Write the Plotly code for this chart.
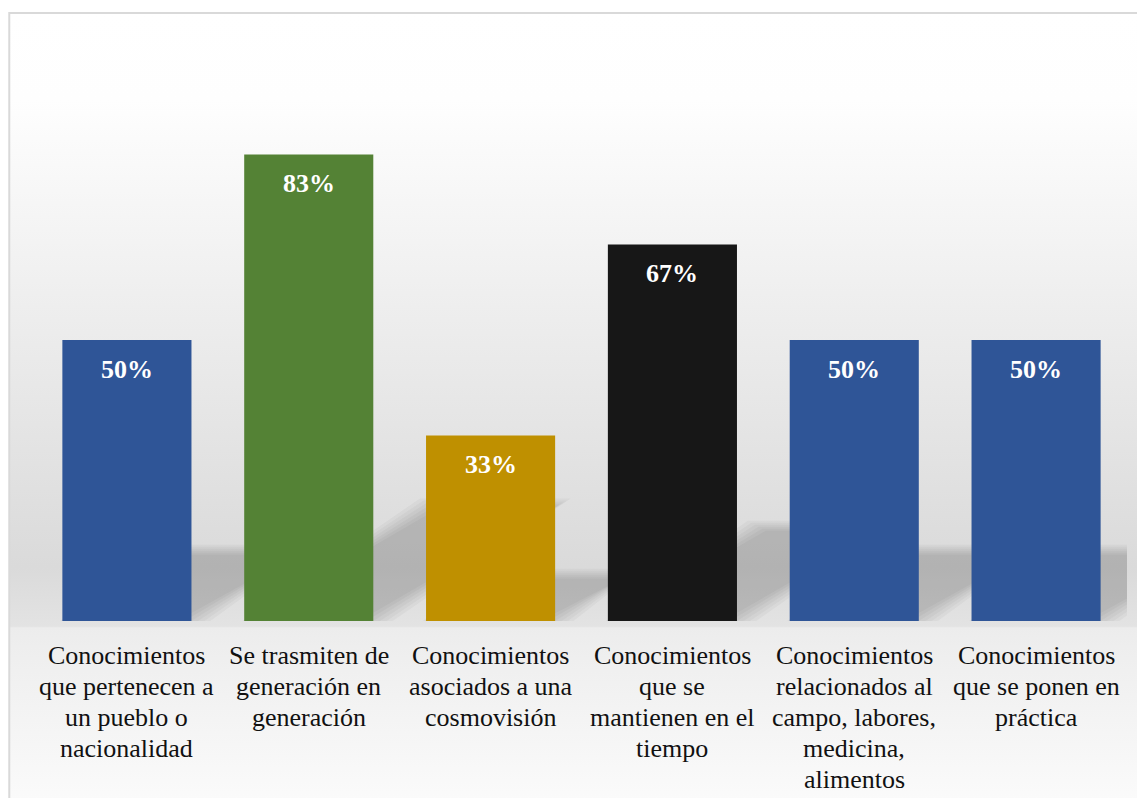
import base64
import plotly.graph_objects as go

categories = [
    "Conocimientos<br>que pertenecen a<br>un pueblo o<br>nacionalidad",
    "Se trasmiten de<br>generación en<br>generación",
    "Conocimientos<br>asociados a una<br>cosmovisión",
    "Conocimientos<br>que se<br>mantienen en el<br>tiempo",
    "Conocimientos<br>relacionados al<br>campo, labores,<br>medicina,<br>alimentos",
    "Conocimientos<br>que se ponen en<br>práctica",
]
values = [50, 83, 33, 67, 50, 50]
bar_colors = ["#2F5597", "#548235", "#BF9000", "#171717", "#2F5597", "#2F5597"]

FONT = "'Liberation Serif', 'Times New Roman', Tinos, 'DejaVu Serif', 'Noto Serif', serif"
BAR_W = 0.71
PX_X = 1091 / 6      # px per category
PX_Y = 562 / 100     # px per percent

# background gradient (wall + floor), as an inline svg image
svg = (
    '<svg xmlns="http://www.w3.org/2000/svg" width="100" height="785" preserveAspectRatio="none">'
    '<defs><linearGradient id="g" x1="0" y1="0" x2="0" y2="1">'
    '<stop offset="0" stop-color="#ffffff"/>'
    '<stop offset="0.11" stop-color="#fefefe"/>'
    '<stop offset="0.37" stop-color="#eeeeee"/>'
    '<stop offset="0.70" stop-color="#dadada"/>'
    '<stop offset="0.774" stop-color="#e3e3e3"/>'
    '<stop offset="0.776" stop-color="#ececec"/>'
    '<stop offset="0.80" stop-color="#eeeeee"/>'
    '<stop offset="1" stop-color="#fbfbfb"/>'
    '</linearGradient></defs>'
    '<rect x="0" y="0" width="100" height="785" fill="url(#g)"/></svg>'
)
bg_src = "data:image/svg+xml;base64," + base64.b64encode(svg.encode()).decode()

fig = go.Figure(go.Bar(
    x=list(range(len(values))), y=values, width=BAR_W,
    marker=dict(color=bar_colors, line_width=0), hoverinfo="skip",
))

# soft diagonal shadows behind each bar
shapes = []
for i, v in enumerate(values):
    xl, xr = i - BAR_W / 2, i + BAR_W / 2
    top = 0.25 * v
    dx = 0.4 * v * PX_Y / PX_X
    for d in (-6, -4, -2, 0, 2, 4):
        ex = 1.8 * d / PX_X
        ey = d / PX_Y
        path = (f"M{xl + ex},{ey} L{xr - ex},{ey} "
                f"L{xr + dx - ex},{top - ey} L{xl + dx + ex},{top - ey} Z")
        shapes.append(dict(type="path", path=path, xref="x", yref="y", layer="below",
                           fillcolor="rgba(0,0,0,0.033)", line_width=0))

# chart border
shapes.append(dict(type="rect", xref="paper", yref="paper", x0=-0.0245, x1=1.03,
                   y0=-0.32, y1=1.0819, line=dict(color="#d9d9d9", width=2), layer="below"))

annotations = []
for i, v in enumerate(values):
    annotations.append(dict(x=i, y=v, xref="x", yref="y", text=f"<b>{v}%</b>", showarrow=False,
                            yshift=-29, yanchor="middle",
                            font=dict(family=FONT, size=26, color="white")))
    for j, line in enumerate(categories[i].split("<br>")):
        annotations.append(dict(x=i, y=0, xref="x", yref="y", text=line, showarrow=False,
                                yshift=-34 - 31 * j, yanchor="middle",
                                font=dict(family=FONT, size=26, color="#111111")))

fig.update_layout(
    width=1137, height=790,
    margin=dict(l=28, r=18, t=51, b=177),
    paper_bgcolor="white", plot_bgcolor="rgba(0,0,0,0)",
    showlegend=False,
    shapes=shapes, annotations=annotations,
    images=[dict(source=bg_src, xref="paper", yref="paper", x=-0.0245, y=1.0819,
                 sizex=1.06, sizey=1.41, xanchor="left", yanchor="top",
                 sizing="stretch", layer="below")],
    xaxis=dict(range=[-0.5, 5.5], visible=False),
    yaxis=dict(range=[0, 100], visible=False),
)

fig.write_html("out.html")
